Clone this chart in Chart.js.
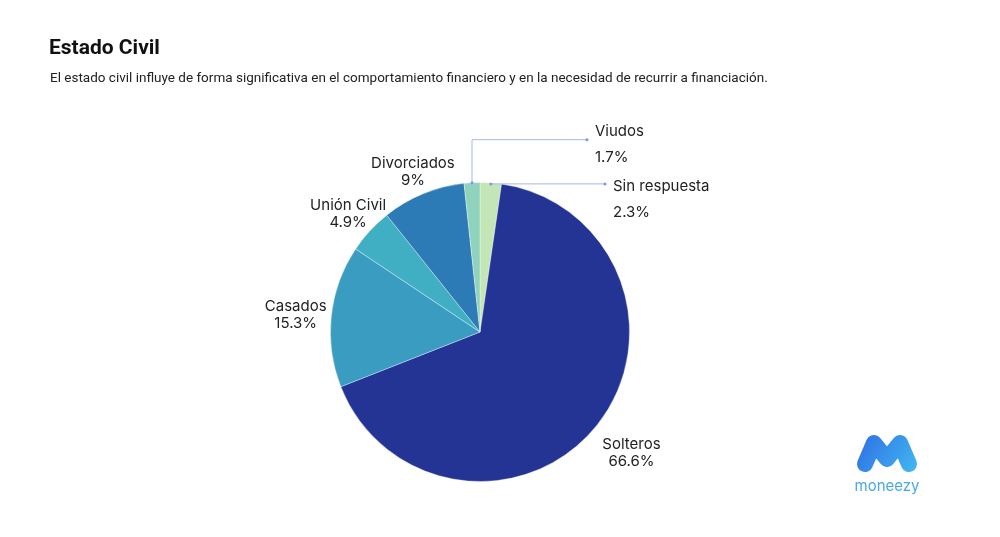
<!DOCTYPE html>
<html>
<head>
<meta charset="utf-8">
<script src="https://cdn.jsdelivr.net/npm/chart.js@4/dist/chart.umd.min.js"></script>
<style>
  html, body { margin: 0; padding: 0; background: #fff; }
  #wrap { position: relative; width: 1000px; height: 537px; overflow: hidden; }
  #title { position: absolute; left: 49px; top: 35px; font: bold 21px Roboto, sans-serif; color: #111; }
  #subtitle { position: absolute; left: 50px; top: 69px; font: 13.5px Roboto, sans-serif; color: #222; white-space: nowrap; }
  canvas { position: absolute; left: 0; top: 0; }
</style>
</head>
<body>
<div id="wrap">
  <canvas id="c" width="1000" height="537"></canvas>
  <div id="title">Estado Civil</div>
  <div id="subtitle">El estado civil influye de forma significativa en el comportamiento financiero y en la necesidad de recurrir a financiación.</div>
</div>
<script>
// Data (clockwise from 12 o'clock)
const categories = ['Sin respuesta', 'Solteros', 'Casados', 'Unión Civil', 'Divorciados', 'Viudos'];
const percentages = [2.3, 66.6, 15.3, 4.9, 9, 1.7];
const sliceColors = ['#c4e6b6', '#243494', '#3a9cc0', '#41afc3', '#2d7bb6', '#8fd3bd'];

const labelPlugin = {
  id: 'sliceLabels',
  afterDatasetsDraw(chart) {
    const ctx = chart.ctx;
    const meta = chart.getDatasetMeta(0);
    ctx.save();
    ctx.font = '15px Inter, sans-serif';
    ctx.fillStyle = '#222';
    ctx.textBaseline = 'middle';
    meta.data.forEach((arc, i) => {
      const p = arc.getProps(['x', 'y', 'startAngle', 'endAngle', 'outerRadius'], true);
      const mid = (p.startAngle + p.endAngle) / 2;
      const dx = Math.cos(mid), dy = Math.sin(mid);
      const r = p.outerRadius;
      const name = categories[i];
      const val = percentages[i] + '%';
      const pct = percentages[i];
      if (pct < 3) {
        const ex = p.x + dx * r, ey = p.y + dy * r;
        ctx.strokeStyle = '#aab4f0';
        ctx.lineWidth = 1;
        let endX, lineY;
        ctx.beginPath();
        if (dx >= 0) {
          lineY = ey + 1;
          endX = p.x + 125;
          ctx.moveTo(ex, lineY);
          ctx.lineTo(endX, lineY);
        } else {
          lineY = ey - 43;
          endX = p.x + 107;
          ctx.moveTo(ex, ey);
          ctx.lineTo(ex, lineY);
          ctx.lineTo(endX, lineY);
        }
        ctx.stroke();
        ctx.fillStyle = '#8a8ff0';
        ctx.beginPath(); ctx.arc(ex, dx >= 0 ? lineY : ey, 1.5, 0, Math.PI * 2); ctx.fill();
        ctx.beginPath(); ctx.arc(endX, lineY, 1.5, 0, Math.PI * 2); ctx.fill();
        ctx.fillStyle = '#222';
        ctx.textAlign = 'left';
        const ty = dx >= 0 ? lineY + 3 : lineY - 8;
        ctx.fillText(name, endX + 8, ty);
        ctx.fillText(val, endX + 8, ty + 26);
      } else {
        const d = r + 37 + 11 * dy;
        const cx = p.x + dx * d, cy = p.y + dy * d + (dy < 0 ? 2.5 : 0);
        ctx.textAlign = 'center';
        ctx.fillText(name, cx, cy - 8);
        ctx.fillText(val, cx, cy + 9);
      }
    });
    ctx.restore();
  },
  afterDraw(chart) {
    // moneezy logo
    const ctx = chart.ctx;
    ctx.save();
    const g = ctx.createLinearGradient(858, 436, 914, 472);
    g.addColorStop(0, '#2f6fe2');
    g.addColorStop(1, '#40b6f2');
    ctx.strokeStyle = g;
    ctx.lineWidth = 16;
    ctx.lineCap = 'round';
    ctx.lineJoin = 'round';
    ctx.beginPath();
    ctx.moveTo(865, 464);
    ctx.lineTo(874, 443);
    ctx.lineTo(887, 459);
    ctx.lineTo(900, 443);
    ctx.lineTo(909, 464);
    ctx.stroke();
    ctx.fillStyle = '#4aa8e8';
    ctx.font = '15px Inter, sans-serif';
    ctx.textAlign = 'center';
    ctx.textBaseline = 'alphabetic';
    ctx.fillText('moneezy', 887, 491);
    ctx.restore();
  }
};

new Chart(document.getElementById('c'), {
  type: 'pie',
  data: {
    labels: categories,
    datasets: [{
      data: percentages,
      backgroundColor: sliceColors,
      borderColor: 'rgba(255,255,255,0.35)',
      borderWidth: 1
    }]
  },
  options: {
    responsive: false,
    animation: false,
    layout: { padding: { left: 330, right: 370, top: 182, bottom: 55 } },
    plugins: { legend: { display: false }, tooltip: { enabled: false } }
  },
  plugins: [labelPlugin]
});
</script>
</body>
</html>
